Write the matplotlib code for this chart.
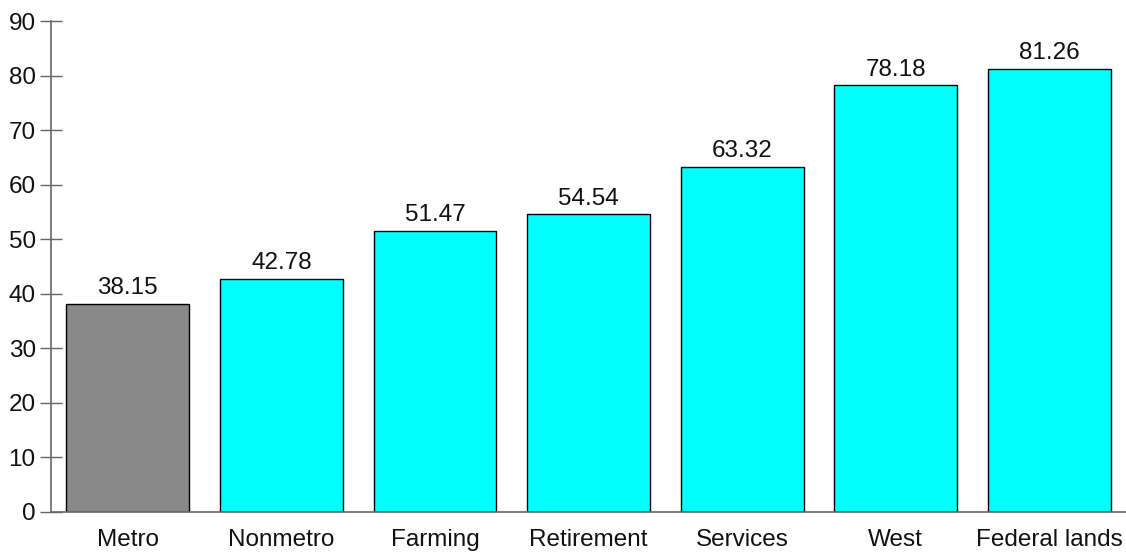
import matplotlib
matplotlib.use("Agg")
import matplotlib.pyplot as plt

categories = ["Metro", "Nonmetro", "Farming", "Retirement", "Services", "West", "Federal lands"]
values = [38.15, 42.78, 51.47, 54.54, 63.32, 78.18, 81.26]
colors = ["#898989", "#00FFFF", "#00FFFF", "#00FFFF", "#00FFFF", "#00FFFF", "#00FFFF"]
yticks = [0, 10, 20, 30, 40, 50, 60, 70, 80, 90]

plt.rcParams["font.family"] = ["Liberation Sans", "DejaVu Sans"]

W, H = 1126, 552
fig = plt.figure(figsize=(W / 100, H / 100), dpi=100)
ax = fig.add_axes([51 / W, 40 / H, (W - 51) / W, (512 - 21) / H])

x = range(len(categories))
bars = ax.bar(x, values, width=0.8, color=colors, edgecolor="black", linewidth=1.0, zorder=2)
for xi, v in zip(x, values):
    ax.text(xi, v + 0.9, f"{v:.2f}", ha="center", va="bottom", fontsize=17.5, color="#111111")

ax.set_xlim(-0.5, 6.5)
ax.set_ylim(0, 90)
ax.set_yticks(yticks)
ax.set_xticks(list(x))
ax.set_xticklabels(categories)

for s in ("top", "right"):
    ax.spines[s].set_visible(False)
for s in ("left", "bottom"):
    ax.spines[s].set_color("#666666")
    ax.spines[s].set_linewidth(1.2)

ax.tick_params(axis="y", direction="inout", length=16, width=1.0, color="#666666",
               labelsize=17.5, labelcolor="#111111", pad=3)
ax.tick_params(axis="x", length=0, labelsize=17.5, labelcolor="#111111", pad=12)

fig.savefig("out.png", dpi=100)
